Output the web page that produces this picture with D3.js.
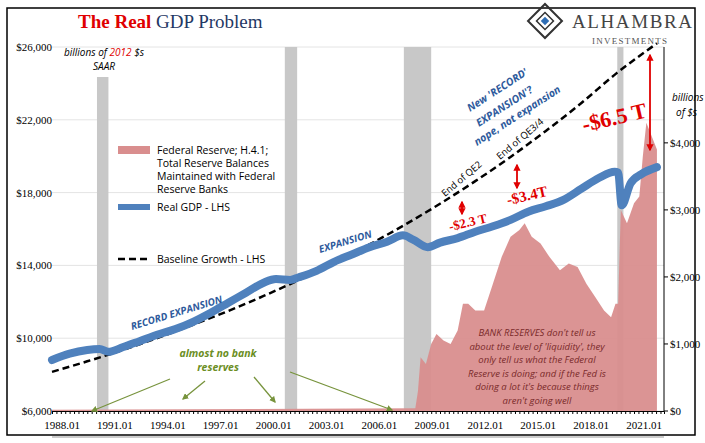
<!DOCTYPE html><html><head><meta charset="utf-8"><script src="https://cdn.jsdelivr.net/npm/d3@7"></script>
<style>body{margin:0;background:#fff}</style></head><body><svg id="c" width="705" height="443"></svg>
<script>
const gdpDates=[1988,1989,1990,1990.7,1991.2,1992,1993,1994,1995,1996,1997,1998,1999,2000,2000.7,2001.5,2002,2003,2004,2005,2006,2007,2007.9,2008.5,2009.3,2010,2011,2012,2013,2014,2015,2016,2017,2018,2019,2019.9,2020.1,2020.3,2020.8,2021.4,2022.3];
const gdpValues=[8800,9150,9350,9400,9250,9500,9850,10200,10500,10900,11400,11950,12500,13050,13250,13200,13350,13700,14200,14600,15000,15300,15650,15400,15000,15250,15500,15850,16150,16500,16950,17250,17600,18200,18800,19150,19100,17300,18500,19000,19400];
const baseDates=[1988,1990,1992,1994,1996,1998,2000,2002,2004,2006,2008,2010,2012,2014,2016,2018,2020,2022.3];
const baseValues=[8150,8730,9350,10020,10740,11500,12320,13200,14150,15150,16230,17390,18630,19960,21390,22910,24550,26200];
const resDates=[1988,2008.6,2008.75,2008.9,2009.2,2009.5,2009.8,2010.2,2010.6,2011,2011.3,2011.6,2012,2012.5,2013,2013.5,2014,2014.5,2014.8,2015.2,2015.7,2016.2,2016.8,2017.3,2017.8,2018.3,2018.8,2019.3,2019.7,2019.95,2020.1,2020.25,2020.6,2021,2021.3,2021.5,2021.7,2022.3];
const resValues=[20,40,300,800,700,1000,1150,1050,1000,1200,1600,1600,1500,1500,1900,2300,2600,2700,2800,2600,2500,2300,2100,2200,2150,1900,1700,1500,1400,1600,1600,3000,2800,3100,3200,3800,4300,3900];
const recessions=[[1990.55,1991.2],[2001.2,2001.9],[2007.95,2009.5],[2020.05,2020.4]];
const xTicks=[1988,1991,1994,1997,2000,2003,2006,2009,2012,2015,2018,2021];
const yLeftTicks=[6000,10000,14000,18000,22000,26000];
const yRightTicks=[0,1000,2000,3000,4000];

const svg=d3.select("#c");
const L=52,R=664,T=47,B=411;
const x=d3.scaleLinear().domain([1988,2022.7]).range([L,R]);
const y=d3.scaleLinear().domain([6000,26000]).range([B,T]);
const y2=d3.scaleLinear().domain([0,5430]).range([B,T]);
svg.append("rect").attr("x",7).attr("y",8).attr("width",688).attr("height",427).attr("fill","none").attr("stroke","#000").attr("stroke-width",1.5);
svg.append("g").selectAll("line").data(yLeftTicks).join("line").attr("x1",L).attr("x2",R).attr("y1",d=>y(d)).attr("y2",d=>y(d)).attr("stroke","#e4e4e4");
svg.append("g").selectAll("rect").data(recessions).join("rect").attr("x",d=>x(d[0])).attr("width",d=>x(d[1])-x(d[0]))
 .attr("y",(d,i)=>i==0?77:T).attr("height",(d,i)=>B-(i==0?77:T)).attr("fill","#c8c8c8");
svg.append("path").datum(resDates.map((d,i)=>[d,resValues[i]])).attr("fill","#d98e8e").attr("opacity",0.95)
 .attr("d",d3.area().x(d=>x(d[0])).y0(B).y1(d=>y2(d[1])));
svg.append("path").datum(baseDates.map((d,i)=>[d,baseValues[i]])).attr("fill","none").attr("stroke","#000").attr("stroke-width",2.5).attr("stroke-dasharray","7,4")
 .attr("d",d3.line().curve(d3.curveMonotoneX).x(d=>x(d[0])).y(d=>y(d[1])));
svg.append("path").datum(gdpDates.map((d,i)=>[d,gdpValues[i]])).attr("fill","none").attr("stroke","#4f81bd").attr("stroke-width",8).attr("stroke-linejoin","round").attr("stroke-linecap","round")
 .attr("d",d3.line().curve(d3.curveMonotoneX).x(d=>x(d[0])).y(d=>y(d[1])));
const f="Liberation Serif";
const xa=svg.append("g").attr("transform",`translate(0,${B})`).call(d3.axisBottom(x).tickValues(d3.range(1988,2022.71,0.25)).tickSize(3).tickFormat(""));
xa.select(".domain").attr("stroke","#000");
svg.append("g").selectAll("text").data(xTicks).join("text").attr("x",d=>x(d)+10).attr("y",B+18).attr("text-anchor","middle").attr("font-family",f).attr("font-size",11).text(d=>d+".01");
svg.append("line").attr("x1",L).attr("x2",R).attr("y1",B+26).attr("y2",B+26).attr("stroke","#999");
svg.append("g").selectAll("text").data(yLeftTicks).join("text").attr("x",L).attr("y",d=>y(d)+4).attr("text-anchor","end").attr("font-family",f).attr("font-size",11).text(d=>"$"+d3.format(",")(d));
svg.append("line").attr("x1",R).attr("x2",R).attr("y1",T).attr("y2",B).attr("stroke","#000");
svg.append("g").selectAll("line").data(yRightTicks).join("line").attr("x1",R).attr("x2",R+4).attr("y1",d=>y2(d)).attr("y2",d=>y2(d)).attr("stroke","#000");
svg.append("g").selectAll("text").data(yRightTicks).join("text").attr("x",R+6).attr("y",d=>y2(d)+4).attr("font-family",f).attr("font-size",11).text(d=>"$"+d3.format(",")(d));
const t=svg.append("text").attr("x",78).attr("y",28).attr("font-family",f).attr("font-size",19).attr("font-weight","bold");
t.append("tspan").attr("fill","#e00000").text("The Real ");
t.append("tspan").attr("fill","#1f3864").attr("font-weight","normal").text("GDP Problem");
const lg=svg.append("g");
lg.append("rect").attr("x",533).attr("y",9).attr("width",24).attr("height",24).attr("transform","rotate(45 545 21)").attr("fill","none").attr("stroke","#333").attr("stroke-width",2);
lg.append("rect").attr("x",539).attr("y",15).attr("width",12).attr("height",12).attr("transform","rotate(45 545 21)").attr("fill","none").attr("stroke","#333").attr("stroke-width",1.5);
lg.append("rect").attr("x",542).attr("y",18).attr("width",6).attr("height",6).attr("transform","rotate(45 545 21)").attr("fill","#2e6db4");
lg.append("text").attr("x",572).attr("y",28).attr("font-family",f).attr("font-size",19).attr("fill","#444").attr("textLength",120).text("ALHAMBRA");
lg.append("text").attr("x",592).attr("y",44).attr("font-family",f).attr("font-size",9).attr("fill","#555").attr("textLength",75).text("INVESTMENTS");
function txt(xp,yp,s,o){const e=svg.append("text").attr("x",xp).attr("y",yp).text(s).attr("font-family",o.ff||"Open Sans").attr("font-size",o.fs||10).attr("fill",o.c||"#000");
 if(o.i)e.attr("font-style","italic");if(o.b)e.attr("font-weight","bold");if(o.a)e.attr("text-anchor",o.a);if(o.r)e.attr("transform",`rotate(${o.r} ${xp} ${yp})`);return e;}
txt(104,56,"",{}).call(e=>{e.attr("font-style","italic").attr("font-size",10).attr("text-anchor","middle").attr("font-family","Open Sans");e.append("tspan").text("billions of ");e.append("tspan").attr("fill","#e00000").text("2012");e.append("tspan").text(" $s");});
txt(104,70,"SAAR",{i:1,a:"middle"});
txt(672,101,"billions",{i:1});txt(676,116,"of $s",{i:1});
svg.append("rect").attr("x",118).attr("y",146).attr("width",32).attr("height",8).attr("fill","#d98e8e");
["Federal Reserve; H.4.1;","Total Reserve Balances","Maintained with Federal","Reserve Banks"].forEach((s,i)=>txt(157,154+i*13,s,{fs:10.5}));
svg.append("line").attr("x1",118).attr("x2",150).attr("y1",207).attr("y2",207).attr("stroke","#4f81bd").attr("stroke-width",6);
txt(157,211,"Real GDP - LHS",{fs:10.5});
svg.append("line").attr("x1",118).attr("x2",150).attr("y1",259).attr("y2",259).attr("stroke","#000").attr("stroke-width",2.5).attr("stroke-dasharray","7,4");
txt(157,263,"Baseline Growth - LHS",{fs:10.5});
const bl="#2e5a9c";
txt(132,330,"RECORD EXPANSION",{i:1,b:1,c:bl,r:-17,fs:10});
txt(320,253,"EXPANSION",{i:1,b:1,c:bl,r:-17,fs:10});
txt(470,112,"New 'RECORD'",{i:1,b:1,c:bl,r:-33,fs:10.5});
txt(479,127,"EXPANSION'?",{i:1,b:1,c:bl,r:-33,fs:10.5});
txt(477,146,"nope, not expansion",{i:1,b:1,c:bl,r:-33,fs:10.5});
txt(445,197,"End of QE2",{r:-40,fs:9.5});
txt(500,160,"End of QE3/4",{r:-40,fs:9.5});
const rd="#e00000";
txt(450,231,"-$2.3 T",{ff:f,b:1,c:rd,fs:13,r:-13});
txt(508,205,"-$3.4T",{ff:f,b:1,c:rd,fs:15,r:-13});
txt(584,132,"-$6.5 T",{ff:f,b:1,c:rd,fs:22,r:-13});
svg.append("defs").html('<marker id="ar" viewBox="0 0 10 10" refX="8" refY="5" markerWidth="4" markerHeight="4" orient="auto-start-reverse"><path d="M0,0L10,5L0,10z" fill="#e00000"/></marker><marker id="ag" viewBox="0 0 10 10" refX="8" refY="5" markerWidth="5" markerHeight="5" orient="auto"><path d="M0,0L10,5L0,10z" fill="#77933c"/></marker>');
[[462,202,462,214],[517,165,517,188],[650,55,650,150]].forEach(a=>svg.append("line").attr("x1",a[0]).attr("y1",a[1]).attr("x2",a[2]).attr("y2",a[3]).attr("stroke",rd).attr("stroke-width",1.8).attr("marker-start","url(#ar)").attr("marker-end","url(#ar)"));
txt(218,357,"almost no bank",{i:1,b:1,c:"#6b8e23",a:"middle",fs:10.5});
txt(218,371,"reserves",{i:1,b:1,c:"#6b8e23",a:"middle",fs:10.5});
[[170,379,92,411],[205,381,183,399],[254,377,275,402],[290,372,392,410]].forEach(a=>svg.append("line").attr("x1",a[0]).attr("y1",a[1]).attr("x2",a[2]).attr("y2",a[3]).attr("stroke","#77933c").attr("stroke-width",1.3).attr("marker-end","url(#ag)"));
["BANK RESERVES don't tell us","about the level of 'liquidity', they","only tell us what the Federal","Reserve is doing; and if the Fed is","doing a lot it's because things","aren't going well"].forEach((s,i)=>txt(537,336+i*13.5,s,{i:1,c:"#7a2a2a",a:"middle",fs:9.5}));
</script></body></html>
